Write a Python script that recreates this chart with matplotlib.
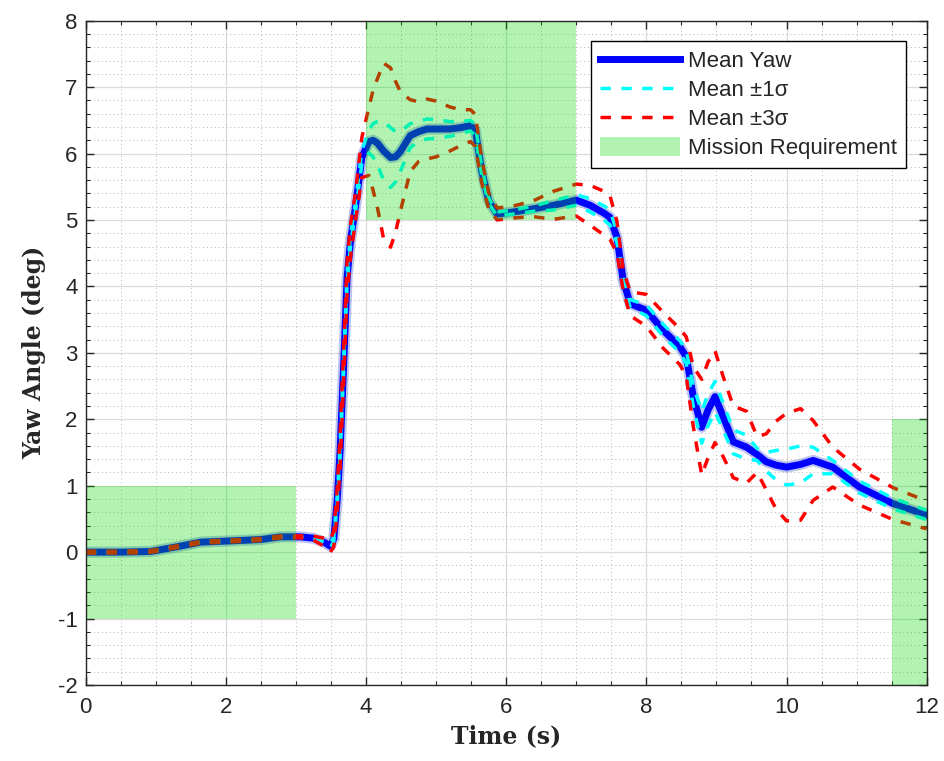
import numpy as np
import matplotlib
matplotlib.use("Agg")
import matplotlib.pyplot as plt
from matplotlib.patches import Rectangle
from matplotlib.ticker import MultipleLocator

# ---------------------------------------------------------------------------
# Data
# ---------------------------------------------------------------------------
time_s = [0.00, 0.50, 0.93, 1.30, 1.64, 2.10, 2.50, 2.78, 3.06, 3.25,
          3.40, 3.49, 3.54, 3.59, 3.63, 3.68, 3.73, 3.78, 3.85, 3.94,
          4.04, 4.10, 4.16, 4.25, 4.35, 4.42, 4.49, 4.63, 4.75, 4.87,
          5.00, 5.20, 5.35, 5.49, 5.56, 5.65, 5.75, 5.87, 6.10, 6.39,
          6.67, 7.00, 7.20, 7.40, 7.48, 7.58, 7.67, 7.77, 8.00, 8.24,
          8.48, 8.57, 8.67, 8.79, 8.88, 8.98, 9.10, 9.24, 9.43, 9.58,
          9.71, 9.85, 10.00, 10.20, 10.38, 10.66, 11.04, 11.52, 12.00]

yaw_mean = [0.00, 0.00, 0.01, 0.08, 0.15, 0.17, 0.19, 0.23, 0.23, 0.21,
            0.15, 0.09, 0.20, 0.80, 1.53, 2.80, 4.14, 4.70, 5.20, 5.94,
            6.18, 6.20, 6.16, 6.04, 5.94, 5.95, 6.03, 6.27, 6.33, 6.37,
            6.37, 6.37, 6.39, 6.42, 6.35, 5.74, 5.29, 5.09, 5.12, 5.17,
            5.22, 5.30, 5.22, 5.10, 5.04, 4.74, 4.09, 3.74, 3.64, 3.34,
            3.09, 2.94, 2.34, 1.88, 2.14, 2.34, 2.03, 1.66, 1.58, 1.47,
            1.36, 1.31, 1.28, 1.32, 1.38, 1.28, 0.98, 0.73, 0.56]

yaw_sigma = [0.005, 0.005, 0.005, 0.005, 0.005, 0.005, 0.005, 0.005, 0.005, 0.01,
             0.02, 0.03, 0.04, 0.06, 0.08, 0.08, 0.08, 0.08, 0.07, 0.10,
             0.17, 0.25, 0.32, 0.44, 0.45, 0.38, 0.30, 0.18, 0.15, 0.15,
             0.14, 0.11, 0.09, 0.08, 0.08, 0.06, 0.04, 0.03, 0.03, 0.04,
             0.07, 0.08, 0.10, 0.11, 0.11, 0.08, 0.05, 0.06, 0.08, 0.09,
             0.09, 0.10, 0.15, 0.24, 0.24, 0.23, 0.20, 0.18, 0.18, 0.09,
             0.14, 0.22, 0.27, 0.28, 0.20, 0.10, 0.09, 0.08, 0.07]

# mission requirement boxes: (t_start, t_end, yaw_low, yaw_high)
req_t0 = [0.0, 4.0, 11.5]
req_t1 = [3.0, 7.0, 12.0]
req_lo = [-1.0, 5.0, -2.0]
req_hi = [1.0, 8.0, 2.0]

plt.rcParams["font.family"] = ["Liberation Sans", "DejaVu Sans"]
plt.rcParams["axes.unicode_minus"] = False

LABEL_FONT = ["DejaVu Serif"]
AX_GRAY = (0.15, 0.15, 0.15)

t = np.array(time_s)
m = np.array(yaw_mean)
s = np.array(yaw_sigma)

fig = plt.figure(figsize=(9.45, 7.61), dpi=100)
ax = fig.add_axes([0.0907, 0.0999, 0.8899, 0.8729])

# fuzzy halo + mean line
ax.plot(t, m, color=(0.25, 0.35, 0.85), lw=8, alpha=0.35, solid_capstyle="round", zorder=2)
h_mean, = ax.plot(t, m, color="blue", lw=5, zorder=3, label="Mean Yaw")

dash = (3, 3)
h1, = ax.plot(t, m + s, color="cyan", lw=2.5, dashes=dash, zorder=4, label="Mean \u00b11\u03c3")
ax.plot(t, m - s, color="cyan", lw=2.5, dashes=dash, zorder=4)
h3, = ax.plot(t, m + 3 * s, color="red", lw=2.5, dashes=dash, zorder=5, label="Mean \u00b13\u03c3")
ax.plot(t, m - 3 * s, color="red", lw=2.5, dashes=dash, zorder=5)

green = (0.0, 0.85, 0.0)
h_req = None
for a, b, lo, hi in zip(req_t0, req_t1, req_lo, req_hi):
    r = Rectangle((a, lo), b - a, hi - lo, facecolor=green, edgecolor="none",
                  alpha=0.3, zorder=6)
    ax.add_patch(r)
    if h_req is None:
        h_req = r
h_req.set_label("Mission Requirement")

ax.set_xlim(0, 12)
ax.set_ylim(-2, 8)
ax.xaxis.set_major_locator(MultipleLocator(2))
ax.xaxis.set_minor_locator(MultipleLocator(0.5))
ax.yaxis.set_major_locator(MultipleLocator(1))
ax.yaxis.set_minor_locator(MultipleLocator(0.2))

ax.grid(which="major", color=(0.86, 0.86, 0.86), lw=0.9, ls="-", zorder=0)
ax.grid(which="minor", color=(0.72, 0.72, 0.72), lw=0.7, ls=(0, (1, 3)), zorder=0)
ax.set_axisbelow(True)

for sp in ax.spines.values():
    sp.set_color(AX_GRAY)
    sp.set_linewidth(1.0)
    sp.set_zorder(10)

ax.tick_params(which="both", direction="in", top=True, right=True, colors=AX_GRAY,
               labelsize=16, labelcolor=AX_GRAY)
ax.tick_params(which="major", length=6, width=1.0)
ax.tick_params(which="minor", length=3, width=0.8)
ax.tick_params(axis="x", which="major", pad=9)
ax.tick_params(axis="y", which="major", pad=6)

ax.set_xlabel("Time (s)", family=LABEL_FONT, fontweight="bold", fontsize=17,
              color=AX_GRAY, labelpad=4)
ax.set_ylabel("Yaw Angle (deg)", family=LABEL_FONT, fontweight="bold", fontsize=17,
              color=AX_GRAY, labelpad=8)

leg = ax.legend(handles=[h_mean, h1, h3, h_req], loc="upper right",
                bbox_to_anchor=(0.975, 0.969), borderaxespad=0,
                prop={"size": 16}, fancybox=False,
                edgecolor="black", framealpha=1, handlelength=3.6,
                handleheight=0.95, handletextpad=0.35, labelspacing=0.3,
                borderpad=0.4)
leg.get_frame().set_linewidth(1.0)
leg.set_zorder(20)
for txt in leg.get_texts():
    txt.set_color(AX_GRAY)

fig.savefig("out.png", dpi=100)
